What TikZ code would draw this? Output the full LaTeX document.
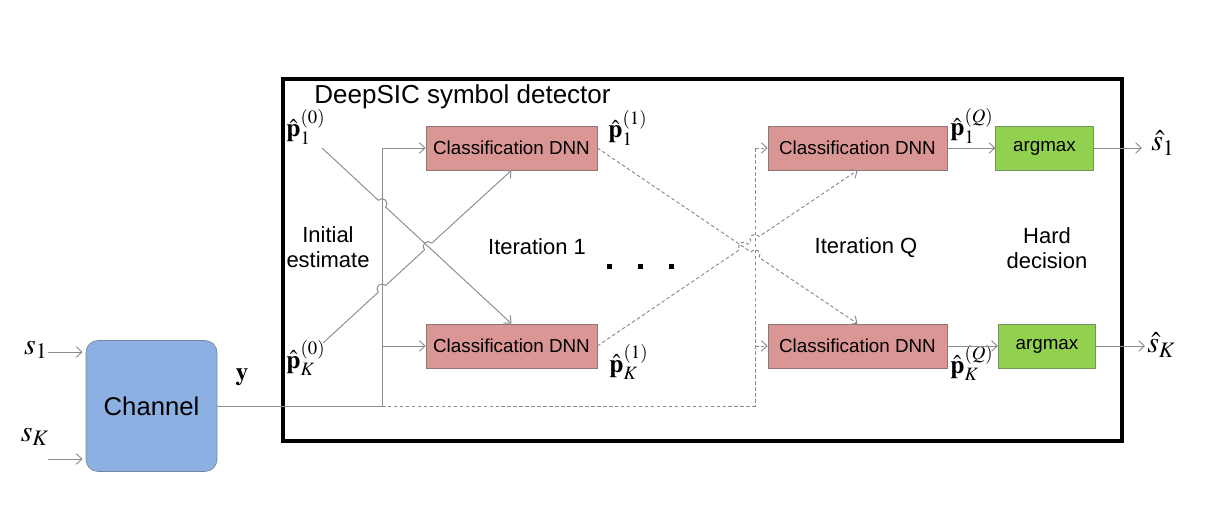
\documentclass[tikz,border=0pt]{standalone}
\usepackage{mathptmx}
\usepackage{fontspec}
\setmainfont{Liberation Sans}
\usetikzlibrary{arrows.meta,calc}
\definecolor{wiregray}{HTML}{8C8C8C}
\definecolor{dnnfill}{HTML}{D99694}
\definecolor{dnnline}{HTML}{8E7676}
\definecolor{amfill}{HTML}{92D050}
\definecolor{amline}{HTML}{71955A}
\definecolor{chfill}{HTML}{8DB0E2}
\definecolor{chline}{HTML}{6F86A8}
\tikzset{
  wire/.style={draw=wiregray, line width=0.55pt},
  dwire/.style={wire, dash pattern=on 2pt off 1.4pt},
  arr/.style={-{Straight Barb[length=3.2pt,width=6pt]}},
  dnn/.style={draw=dnnline, fill=dnnfill, minimum height=0.88cm, inner sep=0pt, font=\fontsize{10.7}{12}\selectfont},
  amax/.style={draw=amline, fill=amfill, minimum height=0.88cm, minimum width=1.95cm, inner sep=0pt, font=\fontsize{10.7}{12}\selectfont},
  chanbox/.style={draw=chline, fill=chfill, rounded corners=0.24cm, minimum width=2.62cm, minimum height=2.62cm, inner sep=0pt, font=\fontsize{14.6}{16}\selectfont},
  mlab/.style={inner sep=0pt, font=\fontsize{14.5}{16}\selectfont},
  slab/.style={inner sep=0pt, font=\fontsize{17}{18}\selectfont},
  txt/.style={inner sep=0pt, align=center, font=\fontsize{12.5}{14.3}\selectfont},
}
\begin{document}
\begin{tikzpicture}[x=0.02cm,y=0.02cm]
\useasboundingbox (0,0) rectangle (1225,513);
% detector frame
\node[draw=black, line width=2.2pt, minimum width=16.78cm, minimum height=7.24cm, inner sep=0pt] (det) at (702.5,253) {};
\node[anchor=west, inner sep=0pt, font=\fontsize{14.8}{16}\selectfont] (title) at (314,416) {DeepSIC symbol detector};
% blocks
\node[chanbox] (ch) at (151.5,107) {Channel};
\node[dnn, minimum width=3.42cm] (d1) at (511.5,365) {Classification DNN};
\node[dnn, minimum width=3.42cm] (d2) at (511.5,167) {Classification DNN};
\node[dnn, minimum width=3.58cm] (d3) at (857.5,365) {Classification DNN};
\node[dnn, minimum width=3.58cm] (d4) at (857.5,167) {Classification DNN};
\node[amax] (a1) at (1044.5,365) {argmax};
\node[amax] (a2) at (1047,167) {argmax};
% labels
\node[slab] (s1) at (36,163) {$s_1$};
\node[slab] (sK) at (35,76) {$s_K$};
\node[mlab] (yl) at (242,136) {$\mathbf{y}$};
\node[mlab] (p10) at (306,386) {$\hat{\mathbf{p}}_1^{(0)}$};
\node[mlab] (pK0) at (306,155) {$\hat{\mathbf{p}}_K^{(0)}$};
\node[mlab] (p11) at (628,385) {$\hat{\mathbf{p}}_1^{(1)}$};
\node[mlab] (pK1) at (629,151) {$\hat{\mathbf{p}}_K^{(1)}$};
\node[mlab] (p1Q) at (972,387) {$\hat{\mathbf{p}}_1^{(Q)}$};
\node[mlab] (pKQ) at (972,150) {$\hat{\mathbf{p}}_K^{(Q)}$};
\node[slab, anchor=west] (sh1) at (1151,370) {$\hat{s}_1$};
\node[slab, anchor=west] (shK) at (1147,168) {$\hat{s}_K$};
\node[txt] (init) at (328,266) {Initial\\estimate};
\node[txt] (it1) at (537,266) {Iteration 1};
\node[txt] (itq) at (866,265) {Iteration Q};
\node[txt] (hard) at (1047,265) {Hard\\decision};
% dots
\foreach \x in {609,640,671} \fill (\x-2.5,243.5) rectangle ++(5,5);
% coordinates
\coordinate (i1) at (48,161);
\coordinate (iK) at (48,54);
\coordinate (j1) at (382,107);
\coordinate (t1) at (382,365);
\coordinate (b1) at (382,167);
\coordinate (j2) at (755,107);
\coordinate (t2) at (755,365);
\coordinate (b2) at (755,167);
\coordinate (p10s) at (322,365);
\coordinate (pK0s) at (323,170);
\coordinate (o1) at (1142,365);
\coordinate (o2) at (1145,167);
% inputs
\draw[wire,arr,shorten >=0.06cm] (i1) -- (i1 -| ch.west);
\draw[wire,arr,shorten >=0.06cm] (iK) -- (iK -| ch.west);
% received signal
\draw[wire] (ch.east) -- (j1) -- (t1);
\draw[wire,arr] (t1) -- (d1.west);
\draw[wire,arr] (b1) -- (d2.west);
\draw[dwire] (j1) -- (j2) -- (t2);
\draw[dwire,arr] (t2) -- (d3.west);
\draw[dwire,arr] (b2) -- (d4.west);
% initial estimates
\draw[wire,arr] (p10s) -- (378.34,312.67) arc[start angle=137.12, end angle=-42.88, radius=0.1cm] -- (d2.north);
\draw[wire,arr] (pK0s) -- (378.32,220.77) arc[start angle=222.54, end angle=42.54, radius=0.1cm]
   -- (424.42,263.08) arc[start angle=222.54, end angle=42.54, radius=0.1cm] -- (d1.south);
% iteration exchanges
\draw[dwire,arr] (d1.east) -- (750.86,261.06) arc[start angle=145.96, end angle=-34.04, radius=0.1cm] -- (d4.north);
\draw[dwire,arr] (d2.east) -- (739.36,263.2) arc[start angle=214.04, end angle=34.04, radius=0.1cm]
   -- (750.86,270.94) arc[start angle=214.04, end angle=34.04, radius=0.1cm] -- (d3.south);
% hard decision
\draw[wire,arr] (d3.east) -- (a1.west);
\draw[wire,arr] (d4.east) -- (a2.west);
\draw[wire,arr] (a1.east) -- (o1);
\draw[wire,arr] (a2.east) -- (o2);
\end{tikzpicture}
\end{document}
